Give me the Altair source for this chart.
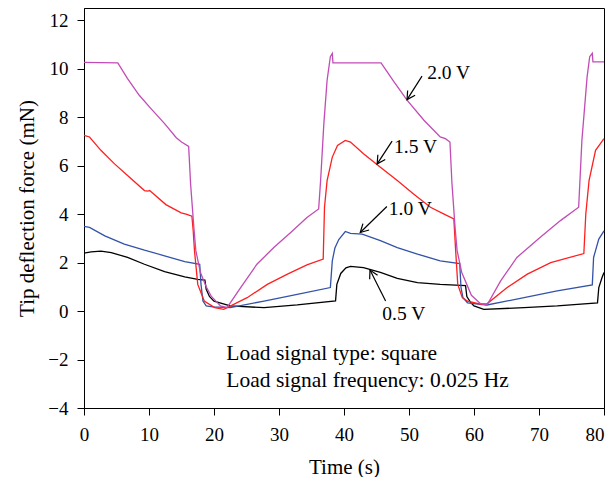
import math
import altair as alt
import pandas as pd

# ---- data ----
t_20 = [0, 5.2, 6.7, 8.5, 10.3, 12.4, 14.2, 15.0, 16.1, 16.4, 16.9, 17.2, 17.9, 18.8, 19.6, 21.0, 22.0,
        24.1, 26.6, 29.2, 31.8, 34.3, 36.1, 36.4, 36.9, 37.4, 37.9, 38.2, 38.3,
        45.7, 47.7, 49.7, 52.3, 54.8, 55.6, 56.3, 56.6, 57.1, 57.4, 58.1, 59.6, 61.0, 62.0,
        64.1, 66.6, 70.2, 73.3, 76.1, 76.6, 77.4, 77.8, 78.2, 78.3, 80]
v_20 = [10.26, 10.24, 9.59, 8.9, 8.35, 7.73, 7.15, 6.97, 6.79, 5.24, 3.45, 2.5, 1.6, 1.0, 0.6, 0.21, 0.14,
        0.97, 1.93, 2.62, 3.24, 3.86, 4.21, 5.38, 7.73, 9.52, 10.49, 10.63, 10.24,
        10.24, 9.45, 8.7, 7.87, 7.18, 7.11, 6.97, 5.3, 3.4, 2.5, 1.6, 0.65, 0.3, 0.25,
        1.24, 2.21, 3.04, 3.73, 4.28, 7.04, 9.66, 10.49, 10.63, 10.28, 10.28]

t_15 = [0, 0.85, 2.6, 4.7, 6.7, 9.3, 9.8, 10.1, 10.5, 12.6, 14.95, 15.7, 16.6, 16.8, 17.0, 17.5, 18.5, 20.1, 21.5,
        25.1, 28.2, 31.3, 34.3, 36.8, 37.0, 37.4, 38.2, 39.0, 40.2, 41.0, 43.0, 45.6, 48.2, 50.7, 53.3, 55.4, 56.9,
        57.2, 57.5, 58.2, 59.0, 61.0, 62.0, 65.1, 68.2, 71.8, 76.9, 77.2, 77.7, 78.7, 80]
v_15 = [7.25, 7.18, 6.63, 6.07, 5.59, 4.97, 4.95, 4.97, 4.88, 4.39, 4.05, 4.0, 3.91, 3.31, 2.48, 1.1, 0.41, 0.14, 0.07,
        0.55, 1.1, 1.52, 1.9, 2.14, 4.28, 5.38, 6.35, 6.83, 7.04, 6.97, 6.49, 5.93, 5.38, 4.83, 4.28, 4.0, 3.8,
        2.4, 1.1, 0.55, 0.41, 0.28, 0.3, 0.97, 1.52, 2.0, 2.37, 4.0, 5.38, 6.63, 7.11]

t_10 = [0, 0.85, 3.2, 6.2, 9.3, 12.4, 15.5, 17.8, 18.0, 18.3, 18.8, 19.8, 22.5, 27.7, 32.8, 37.9,
        38.2, 38.6, 39.2, 40.2, 41.0, 42.8, 45.6, 48.2, 51.3, 54.8, 57.8, 58.0, 58.3, 59.0, 62.0,
        67.7, 72.8, 78.2, 78.4, 79.2, 80]
v_10 = [3.49, 3.45, 3.1, 2.76, 2.51, 2.28, 2.04, 1.93, 1.1, 0.41, 0.21, 0.17, 0.14, 0.41, 0.69, 0.97,
        2.07, 2.6, 2.95, 3.28, 3.2, 3.17, 2.9, 2.62, 2.35, 2.07, 1.96, 0.97, 0.55, 0.34, 0.25,
        0.55, 0.83, 1.08, 2.21, 2.97, 3.31]

t_05 = [0, 1.1, 2.6, 4.2, 6.7, 9.3, 12.4, 15.5, 17.5, 18.6, 18.8, 19.3, 20.0, 22.5, 27.7, 32.8, 38.7,
        38.9, 39.5, 40.3, 41.0, 43.0, 45.6, 48.2, 51.3, 54.8, 58.7, 58.9, 59.5, 60.0, 61.5, 67.7, 72.8, 79.0,
        79.2, 79.7, 80]
v_05 = [2.39, 2.44, 2.47, 2.41, 2.21, 1.93, 1.63, 1.41, 1.31, 1.28, 0.9, 0.6, 0.41, 0.21, 0.14, 0.25, 0.42,
        1.1, 1.55, 1.78, 1.84, 1.79, 1.59, 1.35, 1.17, 1.1, 1.05, 0.6, 0.35, 0.21, 0.07, 0.14, 0.21, 0.34,
        0.97, 1.38, 1.59]

series_names = ["0.5 V", "1.0 V", "1.5 V", "2.0 V"]
series_colors = ["#000000", "#3352A8", "#FF1F1F", "#C24CB6"]

ann_labels = ["2.0 V", "1.5 V", "1.0 V", "0.5 V"]
ann_label_t = [52.8, 47.7, 46.9, 45.9]
ann_label_v = [9.8, 6.76, 4.21, -0.12]
ann_tail_t = [52.0, 47.4, 46.6, 46.4]
ann_tail_v = [9.69, 7.01, 4.31, 0.41]
ann_head_t = [49.7, 45.1, 42.5, 44.0]
ann_head_v = [8.72, 6.07, 3.24, 1.69]

info_lines = ["Load signal type: square", "Load signal frequency: 0.025 Hz"]
info_t = [21.9, 21.9]
info_v = [-1.76, -2.9]

x_ticks = list(range(0, 81, 5))
y_ticks = list(range(-4, 13, 1))

# ---- layout ----
W, H = 520, 400
XDOM = [0, 80]
YDOM = [-4, 12.5]
FONT = "Liberation Serif"

rows = []
for name, ts, vs in zip(series_names, [t_05, t_10, t_15, t_20], [v_05, v_10, v_15, v_20]):
    for i, (t, v) in enumerate(zip(ts, vs)):
        rows.append({"series": name, "t": t, "v": v, "i": i})
df = pd.DataFrame(rows)

xs = alt.Scale(domain=XDOM, nice=False, zero=False)
ys = alt.Scale(domain=YDOM, nice=False, zero=False)

common_axis = dict(
    grid=False, domainColor="black", tickColor="black", labelColor="black", titleColor="black",
    labelFont=FONT, titleFont=FONT, labelFontSize=19, titleFontSize=21, titleFontWeight="normal",
    domainWidth=1, tickWidth=1, titleBaseline="middle", labelFlush=False,
)
x_axis = alt.Axis(
    values=x_ticks, title="Time (s)",
    labelExpr="datum.value % 10 === 0 ? datum.label : ''",
    labelAlign={"condition": {"test": "datum.value === 80", "value": "right"}, "value": "center"},
    tickSize={"condition": {"test": "datum.value % 10 === 0", "value": 7}, "value": 4},
    labelPadding=10, titleY=59, **common_axis,
)
y_axis = alt.Axis(
    values=y_ticks, title="Tip deflection force (mN)",
    labelExpr="datum.value % 2 === 0 ? datum.label : ''",
    tickSize={"condition": {"test": "datum.value % 2 === 0", "value": 7}, "value": 4},
    labelPadding=9, titleX=-57, **common_axis,
)

lines = alt.Chart(df).mark_line(strokeWidth=1.3).encode(
    x=alt.X("t:Q", scale=xs, axis=x_axis),
    y=alt.Y("v:Q", scale=ys, axis=y_axis),
    color=alt.Color("series:N", scale=alt.Scale(domain=series_names, range=series_colors), legend=None),
    order="i:O",
)

px_x = W / (XDOM[1] - XDOM[0])
px_y = H / (YDOM[1] - YDOM[0])
angles = []
for ht, hv, tt, tv in zip(ann_head_t, ann_head_v, ann_tail_t, ann_tail_v):
    dx = (ht - tt) * px_x
    dy = -(hv - tv) * px_y
    angles.append(math.degrees(math.atan2(dx, -dy)) % 360)

ann = pd.DataFrame({
    "label": ann_labels, "lt": ann_label_t, "lv": ann_label_v,
    "tt": ann_tail_t, "tv": ann_tail_v, "ht": ann_head_t, "hv": ann_head_v, "ang": angles,
})

shafts = alt.Chart(ann).mark_rule(color="black", strokeWidth=1.2).encode(
    x=alt.X("tt:Q", scale=xs), y=alt.Y("tv:Q", scale=ys), x2="ht:Q", y2="hv:Q"
)
heads = alt.Chart(ann).mark_point(
    shape="M-0.55,1 L0,0 L0.55,1", filled=False, color="black", strokeWidth=1.2, opacity=1, size=260
).encode(
    x=alt.X("ht:Q", scale=xs), y=alt.Y("hv:Q", scale=ys), angle=alt.Angle("ang:Q", scale=None)
)
labels = alt.Chart(ann).mark_text(align="left", baseline="middle", font=FONT, fontSize=19.5, color="black").encode(
    x=alt.X("lt:Q", scale=xs), y=alt.Y("lv:Q", scale=ys), text="label:N"
)

info = pd.DataFrame({"txt": info_lines, "t": info_t, "v": info_v})
info_text = alt.Chart(info).mark_text(align="left", baseline="middle", font=FONT, fontSize=21.5, color="black").encode(
    x=alt.X("t:Q", scale=xs), y=alt.Y("v:Q", scale=ys), text="txt:N"
)

chart = alt.layer(lines, shafts, heads, labels, info_text).properties(
    width=W, height=H, background="white",
    autosize=alt.AutoSizeParams(type="none"),
    padding={"left": 76, "top": 0, "right": 1, "bottom": 69},
).configure_view(
    stroke="black", strokeWidth=1
)

chart.save("out.html", embed_options={"renderer": "svg", "actions": False})
